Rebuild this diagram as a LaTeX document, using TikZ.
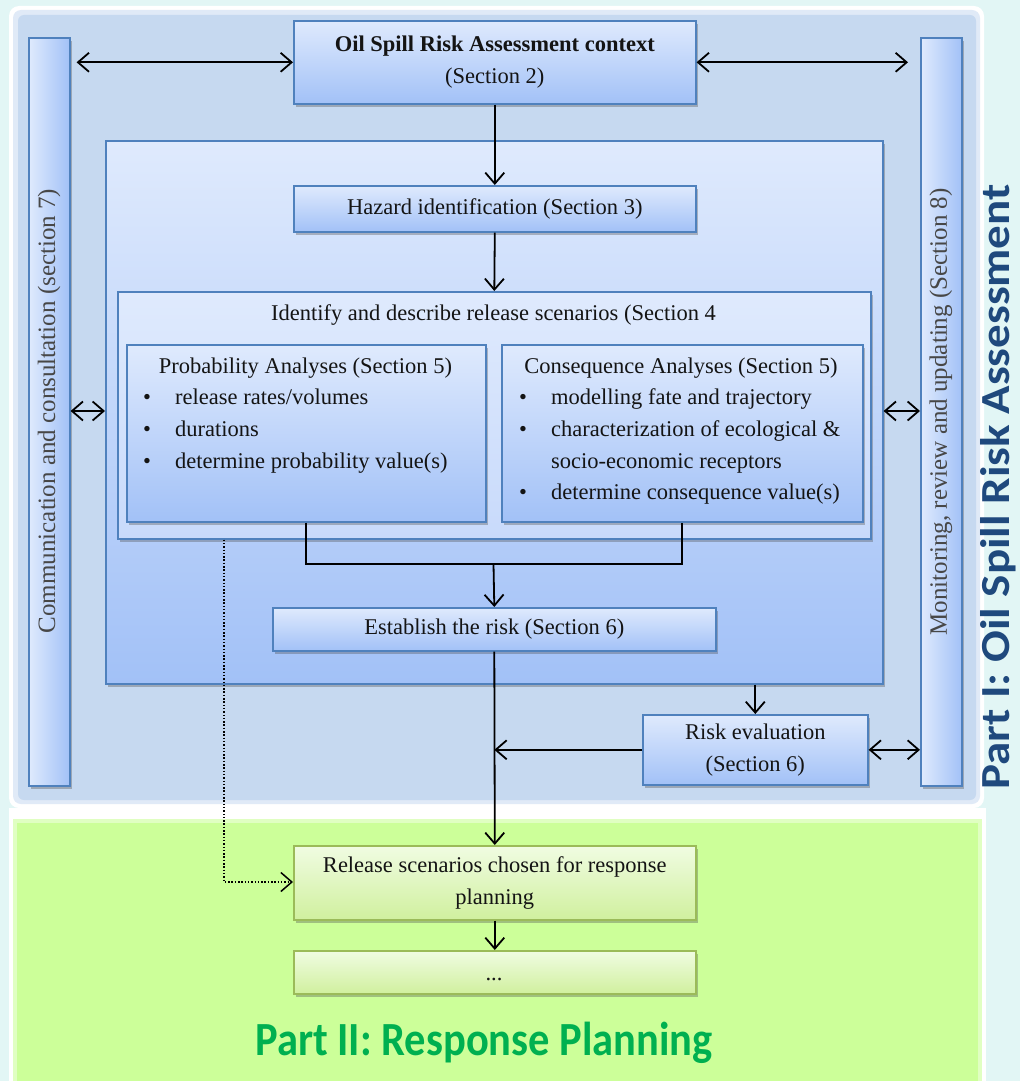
\documentclass[tikz,border=0pt]{standalone}
\usepackage{fontspec}
\setmainfont{Liberation Serif}
\newfontfamily\calib{Carlito}
\usetikzlibrary{arrows.meta,shadows}
\definecolor{bgc}{RGB}{226,246,245}
\definecolor{panel}{RGB}{198,217,240}
\definecolor{bord}{RGB}{79,129,189}
\definecolor{blt}{RGB}{223,234,253}
\definecolor{bdk}{RGB}{162,193,247}
\definecolor{slt}{RGB}{223,234,253}
\definecolor{sdk}{RGB}{200,218,251}
\definecolor{grn}{RGB}{204,255,153}
\definecolor{gbord}{RGB}{155,187,89}
\definecolor{glt}{RGB}{240,252,226}
\definecolor{gdk}{RGB}{208,240,158}
\definecolor{darkblue}{RGB}{31,73,125}
\definecolor{partgreen}{RGB}{0,176,80}
\newcommand\fsz{\fontsize{22.5}{32}\selectfont}
\newcommand\vfsz{\fontsize{25}{30}\selectfont}
\begin{document}
\begin{tikzpicture}[x=1pt,y=-1pt,
  >={Straight Barb[length=11pt,width=19pt]},
  shad/.style={drop shadow={shadow xshift=2pt,shadow yshift=-3pt,opacity=0.35,fill=black!70}},
  bbox/.style={shad,draw=bord,line width=1.6pt,top color=blt,bottom color=bdk,anchor=north west,inner sep=0pt,font=\fsz,align=center,text=black!92},
  sbox/.style={bbox,top color=slt,bottom color=sdk},
  gbox/.style={bbox,draw=gbord,top color=glt,bottom color=gdk},
  bar/.style={shad,draw=bord,line width=1.6pt,left color=blt,right color=bdk,anchor=north west,inner sep=0pt},
  lbl/.style={inner sep=0pt,font=\fsz,text height=1.5ex,text depth=.25ex,text=black!92},
  vlbl/.style={inner sep=0pt,font=\vfsz,rotate=90,text=black!72},
  conn/.style={line width=1.8pt},
]
\useasboundingbox (0,0) rectangle (1020,1081);
% background and panels
\fill[bgc] (0,0) rectangle (1020,1081);
\fill[white,rounded corners=10pt] (9,6) rectangle (984,808);
\fill[panel!55!white,rounded corners=8pt] (13,10) rectangle (980,804);
\fill[panel,rounded corners=6pt] (18,15) rectangle (976,800);
\fill[white] (9,808) rectangle (986,1081);
\fill[grn!60!white] (13,819) rectangle (982,1081);
\fill[grn] (17,823) rectangle (978,1081);

% side bars
\node[bar,minimum width=41pt,minimum height=748pt] (lbar) at (28,37) {};
\node[vlbl] (ltext) at (49,411) {Communication and consultation (section 7)};
\node[bar,minimum width=41pt,minimum height=748pt] (rbar) at (920,37) {};
\node[vlbl] (rtext) at (941,412) {Monitoring, review and updating (Section 8)};

% boxes
\node[bbox,minimum width=402pt,minimum height=83pt] (ctx) at (293,20)
  {{\bfseries Oil Spill Risk Assessment context}\\(Section 2)};
\node[bbox,minimum width=777pt,minimum height=543pt] (inner) at (105,140) {};
\node[bbox,minimum width=402pt,minimum height=46pt] (haz) at (293,185) {Hazard identification (Section 3)};
\node[sbox,minimum width=753pt,minimum height=247pt] (scen) at (117,291) {};
\node[lbl] (scentitle) at (493.5,318) {Identify and describe release scenarios (Section 4};
\node[bbox,minimum width=359pt,minimum height=177pt] (prob) at (126,344) {};
\node[bbox,minimum width=361pt,minimum height=177pt] (cons) at (501,344) {};

\node[lbl] (ptitle) at (305.5,371) {Probability Analyses (Section 5)};
\node[lbl] (pb1) at (147,402) {\textbullet};
\node[lbl,anchor=west] (pt1) at (175,402) {release rates/volumes};
\node[lbl] (pb2) at (147,434) {\textbullet};
\node[lbl,anchor=west] (pt2) at (175,434) {durations};
\node[lbl] (pb3) at (147,466) {\textbullet};
\node[lbl,anchor=west] (pt3) at (175,466) {determine probability value(s)};

\node[lbl] (ctitle) at (681,371) {Consequence Analyses (Section 5)};
\node[lbl] (cb1) at (523,402) {\textbullet};
\node[lbl,anchor=west] (ct1) at (551,402) {modelling fate and trajectory};
\node[lbl] (cb2) at (523,434) {\textbullet};
\node[lbl,anchor=west] (ct2) at (551,434) {characterization of ecological \&};
\node[lbl,anchor=west] (ct2b) at (551,466) {socio-economic receptors};
\node[lbl] (cb3) at (523,497) {\textbullet};
\node[lbl,anchor=west] (ct3) at (551,497) {determine consequence value(s)};

\node[bbox,minimum width=443pt,minimum height=43pt] (est) at (272,607) {Establish the risk (Section 6)};
\node[bbox,minimum width=225pt,minimum height=70pt] (reval) at (642,714) {Risk evaluation\\(Section 6)};
\node[gbox,minimum width=402pt,minimum height=74pt] (rel) at (293,845) {Release scenarios chosen for response\\planning};
\node[gbox,minimum width=402pt,minimum height=43pt] (more) at (293,950) {};
\node[inner sep=0pt,anchor=base,font=\fsz,text=black!92] (moretext) at (494,980) {...};

% part labels
\node[inner sep=0pt,rotate=90,anchor=base,font=\calib\bfseries\fontsize{47}{50}\selectfont,text=darkblue] (part1) at (1009,487) {\scalebox{1}[0.88]{Part I: Oil Spill Risk Assessment}};
\node[inner sep=0pt,anchor=base,font=\calib\bfseries\fontsize{42.5}{46}\selectfont,text=partgreen] (part2) at (484,1055) {\scalebox{1}[1.12]{Part II: Response Planning}};

% connectors
\draw[conn,<->,shorten <=6pt] (lbar.east |- ctx.west) -- (ctx.west);
\draw[conn,<->,shorten >=12pt] (ctx.east) -- (ctx.east -| rbar.west);
\draw[conn,->] (ctx.south) -- (haz.north);
\draw[conn,->] (haz.south) -- (scen.north);
\coordinate (join) at (493.5,564);
\draw[conn] (prob.south) |- (join) -| (cons.south);
\draw[conn,->] (join) -- (est.north);
\draw[conn,->] (est.south) -- (rel.north);
\draw[conn,->] (reval.north |- inner.south) -- (reval.north);
\draw[conn,->] (reval.west) -- (reval.west -| est.south);
\draw[conn,<->] (reval.east) -- (reval.east -| rbar.west);
\coordinate (side) at (500,411);
\draw[conn,<->] (lbar.east |- side) -- (inner.west |- side);
\draw[conn,<->] (inner.east |- side) -- (rbar.west |- side);
\coordinate (dturn) at (224,882);
\draw[line width=1.5pt,dash pattern=on 1.5pt off 1.8pt,->] (dturn |- scen.south) -- (dturn) -- (dturn -| rel.west);
\draw[conn,->] (rel.south) -- (more.north);
\end{tikzpicture}
\end{document}
